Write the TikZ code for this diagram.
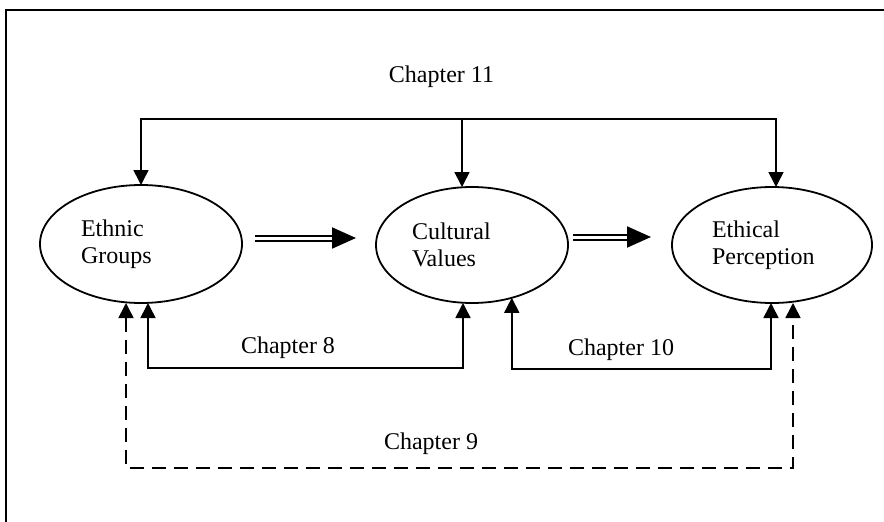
\documentclass[tikz,border=0pt]{standalone}
\usepackage{fontspec}
\setmainfont{Liberation Serif}
\usetikzlibrary{arrows.meta,shapes.geometric}

\begin{document}
\begin{tikzpicture}[x=1pt,y=-1pt,font=\fontsize{24}{27}\selectfont,
  oval/.style={ellipse,draw,line width=1.8pt,inner sep=0pt,outer sep=0pt,text width=120pt,align=left},
  link/.style={line width=1.6pt,-{Triangle[length=15pt,width=15pt]}},
  twoway/.style={line width=1.6pt,{Triangle[length=15pt,width=15pt]}-{Triangle[length=15pt,width=15pt]}},
  flow/.style={double,line width=2pt,double distance=3pt,-{Triangle[length=24pt,width=21pt]}}]
 \useasboundingbox (0,0) rectangle (884,522);
 \draw[line width=2pt] (6,10) rectangle (900,540);
 \node[oval,minimum width=202pt,minimum height=118pt] (eth) at (141,244) {Ethnic\\Groups};
 \node[oval,minimum width=192pt,minimum height=116pt] (cul) at (472,245) {Cultural\\Values};
 \node[oval,minimum width=200pt,minimum height=116pt] (ethp) at (772,245) {Ethical\\Perception};
 \draw[flow] ([xshift=13pt,yshift=6pt]eth.east) -- ([xshift=-20pt,yshift=7pt]cul.west);
 \draw[flow] ([xshift=5pt,yshift=8pt]cul.east) -- ([xshift=-21pt,yshift=8pt]ethp.west);
 % chapter 11
 \coordinate (bus) at (462,119);
 \draw[link] (bus) -| (eth.north);
 \draw[link] (bus) -| ([xshift=4pt]ethp.north);
 \draw[link] (bus) -- ([xshift=-10pt]cul.north);
 \node[anchor=base] (ch11) at (441.5,82) {Chapter 11};
 % chapters 8 and 10
 \draw[twoway] ([xshift=7pt]eth.south) -- ++(0,65) -| ([xshift=-9pt]cul.south);
 \draw[twoway] (cul.-53.6) |- (621,369) -| ([xshift=-1pt]ethp.south);
 \node[anchor=base] (ch8) at (288,353) {Chapter 8};
 \node[anchor=base] (ch10) at (621,355) {Chapter 10};
 % chapter 9
 \draw[twoway,dash pattern=on 14pt off 8pt] ([xshift=-15pt]eth.south) -- ++(0,165) -| ([xshift=21pt]ethp.south);
 \node[anchor=base] (ch9) at (431,449) {Chapter 9};
\end{tikzpicture}
\end{document}
